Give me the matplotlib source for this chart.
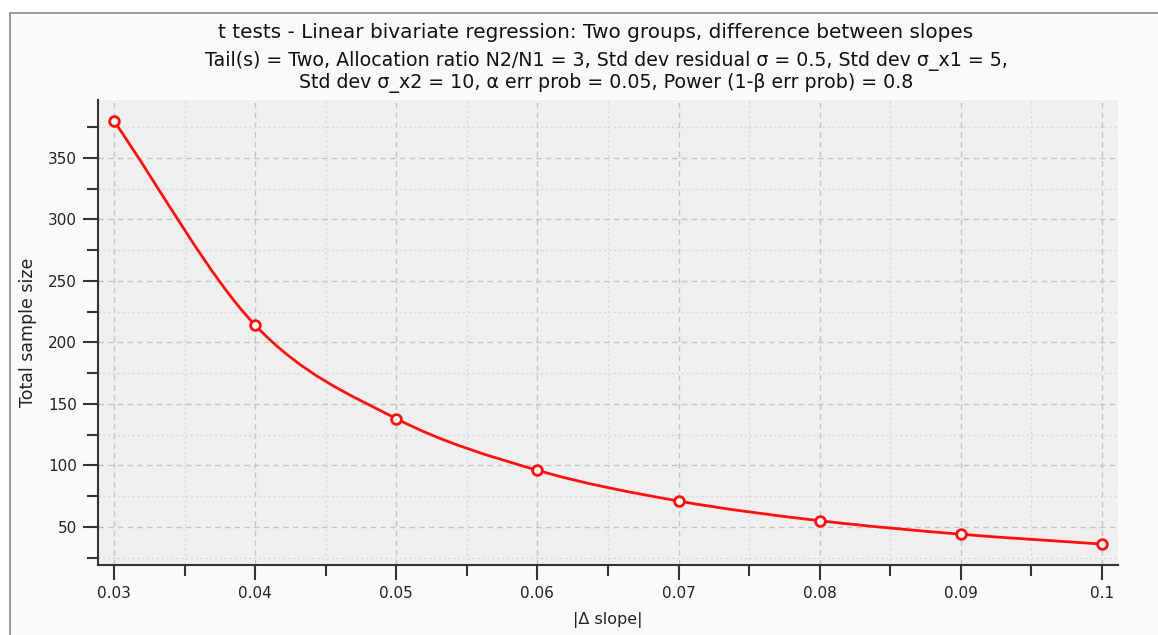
import matplotlib
matplotlib.use("Agg")
import matplotlib.pyplot as plt
from matplotlib.path import Path
from matplotlib.patches import PathPatch, Rectangle
from matplotlib.ticker import MultipleLocator, FixedLocator

# ---- data ----
delta_slope = [0.03, 0.04, 0.05, 0.06, 0.07, 0.08, 0.09, 0.10]
total_n = [380, 214, 138, 96, 71, 55, 44, 36]
x_ticks = [0.03, 0.04, 0.05, 0.06, 0.07, 0.08, 0.09, 0.10]
x_tick_labels = ["0.03", "0.04", "0.05", "0.06", "0.07", "0.08", "0.09", "0.1"]
y_ticks = [50, 100, 150, 200, 250, 300, 350]

title = "t tests - Linear bivariate regression: Two groups, difference between slopes"
subtitle1 = "Tail(s) = Two, Allocation ratio N2/N1 = 3, Std dev residual σ = 0.5, Std dev σ_x1 = 5,"
subtitle2 = "Std dev σ_x2 = 10, α err prob = 0.05, Power (1-β err prob) = 0.8"
xlabel = "|Δ slope|"
ylabel = "Total sample size"

W, H = 1158, 635
fig = plt.figure(figsize=(W / 100, H / 100), dpi=100)
fig.patch.set_facecolor("white")
# panel background with border
fig.patches.append(Rectangle((10 / W, -0.05), 1.1, 1 - 12.5 / H + 0.05,
                             transform=fig.transFigure, facecolor="#fafafa",
                             edgecolor="#8a8a8a", linewidth=1.2, zorder=-10))

left, right, top, bottom = 98, 1118, 100, 565
ax = fig.add_axes([left / W, 1 - bottom / H, (right - left) / W, (bottom - top) / H])
ax.set_facecolor("#efefef")

ax.set_xlim(0.02887, 0.10113)
ax.set_ylim(19, 397)

ax.xaxis.set_major_locator(FixedLocator(x_ticks))
ax.set_xticklabels(x_tick_labels)
ax.xaxis.set_minor_locator(MultipleLocator(0.005))
ax.yaxis.set_major_locator(FixedLocator(y_ticks))
ax.yaxis.set_minor_locator(MultipleLocator(25))

for s in ["top", "right"]:
    ax.spines[s].set_visible(False)
for s in ["left", "bottom"]:
    ax.spines[s].set_color("#333333")
    ax.spines[s].set_linewidth(1.5)

ax.tick_params(which="major", length=11, width=1.5, color="#333333",
               labelsize=11, labelcolor="#222222", pad=4)
ax.tick_params(which="minor", length=8, width=1.5, color="#333333")

ax.grid(which="major", color="#c4c4c4", linestyle=(0, (4, 3)), linewidth=1)
ax.grid(which="minor", color="#d8d8d8", linestyle=(0, (1.5, 2)), linewidth=1)
ax.set_axisbelow(True)

# smooth curve through the data points (Catmull-Rom as Bezier)
n = len(delta_slope)
pts = list(zip(delta_slope, total_n))
tang = []
for i in range(n):
    if i == 0:
        t = (pts[1][0] - pts[0][0], pts[1][1] - pts[0][1])
    elif i == n - 1:
        t = (pts[-1][0] - pts[-2][0], pts[-1][1] - pts[-2][1])
    else:
        t = ((pts[i + 1][0] - pts[i - 1][0]) / 2, (pts[i + 1][1] - pts[i - 1][1]) / 2)
    tang.append(t)
verts = [pts[0]]
codes = [Path.MOVETO]
for i in range(n - 1):
    p0, p1 = pts[i], pts[i + 1]
    c1 = (p0[0] + tang[i][0] / 3, p0[1] + tang[i][1] / 3)
    c2 = (p1[0] - tang[i + 1][0] / 3, p1[1] - tang[i + 1][1] / 3)
    verts += [c1, c2, p1]
    codes += [Path.CURVE4] * 3
ax.add_patch(PathPatch(Path(verts, codes), facecolor="none", edgecolor="#ff1010",
                       linewidth=2, zorder=3))
ax.plot(delta_slope, total_n, linestyle="none", marker="o", markersize=7,
        markerfacecolor="white", markeredgecolor="#ff1010", markeredgewidth=2, zorder=4)

ax.set_xlabel(xlabel, fontsize=11.5, color="#222222", labelpad=8)
ax.set_ylabel(ylabel, fontsize=12.5, color="#222222", labelpad=8)

fig.text(596 / W, 1 - 33 / H, title, ha="center", va="center", fontsize=14.4,
         color="#111111")
fig.text(606 / W, 1 - 61 / H, subtitle1, ha="center", va="center", fontsize=13.7,
         color="#111111")
fig.text(606 / W, 1 - 83 / H, subtitle2, ha="center", va="center", fontsize=13.7,
         color="#111111")

fig.savefig("out.png", dpi=100)
